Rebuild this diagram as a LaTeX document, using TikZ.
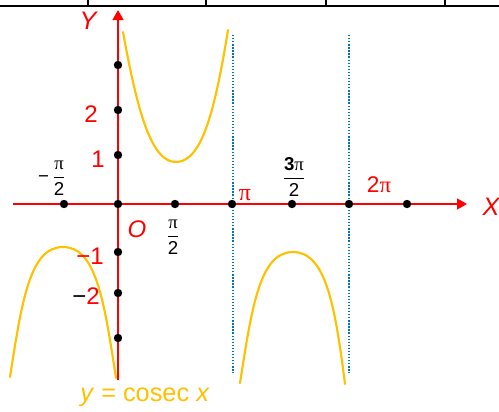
\documentclass[tikz,border=0pt]{standalone}
\usepackage{fontspec}
\setmainfont{Liberation Sans}
\newfontfamily\pifont{Liberation Serif}
\usetikzlibrary{arrows.meta}
\definecolor{axisred}{RGB}{255,0,0}
\definecolor{cosecorange}{RGB}{255,192,0}
\definecolor{asymblue}{RGB}{0,112,192}
\newcommand{\pig}{{\pifont π}}
\newcommand{\pfrac}[2]{$\displaystyle\frac{\mbox{#1}}{\mbox{#2}}$}
\begin{document}
\begin{tikzpicture}[x=0.75pt, y=-0.75pt, line join=round,
    axis/.style={draw=axisred, line width=1.7pt, -{Triangle[length=7.5pt, width=8pt]}},
    dot/.style={circle, fill=black, inner sep=0pt, minimum size=6.3pt},
    curve/.style={draw=cosecorange, line width=1.6pt, line cap=round},
    asym/.style={draw=asymblue, line width=1pt, dash pattern=on 1pt off 1.3pt},
    rlab/.style={text=axisred, font=\fontsize{18}{18}\selectfont, inner sep=0pt},
    blab/.style={text=black, font=\fontsize{14}{14}\selectfont, inner sep=0pt}]
  \useasboundingbox (0,0) rectangle (499,411);
  % top border
  \draw[line width=1.5pt] (0,5.5) -- (499,5.5);
  \draw[line width=1.5pt] (88,0) -- (88,5.5);
  \draw[line width=1.5pt] (206,0) -- (206,5.5);
  \draw[line width=1.5pt] (326,0) -- (326,5.5);
  \draw[line width=1.5pt] (445,0) -- (445,5.5);
  % asymptotes
  \coordinate (a1t) at (233,35);
  \coordinate (a1b) at (233,373);
  \coordinate (a2t) at (349,35);
  \coordinate (a2b) at (349,373);
  \draw[asym] (a1t) -- (a1b);
  \draw[asym] (a2t) -- (a2b);
  % cosec branches
  \draw[curve] (123,32) .. controls (138,115) and (152,162) .. (176,162)
    .. controls (202,162) and (215,110) .. (228,30);
  \draw[curve] (10,377) .. controls (22,300) and (30,247) .. (63,247)
    .. controls (96,247) and (104,300) .. (116,378);
  \draw[curve] (240,383) .. controls (252,306) and (260,252) .. (293,252)
    .. controls (326,252) and (335,306) .. (345,384);
  % axes
  \coordinate (xl) at (13,204);
  \coordinate (xr) at (467,204);
  \coordinate (yb) at (118,380);
  \coordinate (yt) at (118,10);
  \draw[axis] (xl) -- (xr);
  \draw[axis] (yb) -- (yt);
  % points on the axes
  \node[dot] (xm1) at (64,204) {};
  \node[dot] (o) at (118,204) {};
  \node[dot] (x1) at (175,204) {};
  \node[dot] (x2) at (232,204) {};
  \node[dot] (x3) at (292,204) {};
  \node[dot] (x4) at (349,204) {};
  \node[dot] (x5) at (407,204) {};
  \node[dot] (y1) at (118,155) {};
  \node[dot] (y2) at (118,110) {};
  \node[dot] (y3) at (118,65) {};
  \node[dot] (ym1) at (118,252) {};
  \node[dot] (ym2) at (118,293) {};
  \node[dot] (ym3) at (118,338) {};
  % labels
  \node[rlab, font=\fontsize{19}{19}\selectfont\itshape] (ylab) at (88,21) {Y};
  \node[rlab, font=\fontsize{19}{19}\selectfont\itshape] (xlab) at (491,207) {X};
  \node[rlab] (l2) at (91,114) {2};
  \node[rlab] (l1) at (98,159) {1};
  \node[rlab] (lm1) at (90,256) {−1};
  \node[rlab] (lm2) at (86,296) {\textcolor{black}{−}2};
  \node[rlab, font=\fontsize{18}{18}\selectfont\itshape] (lo) at (137,229) {O};
  \node[rlab] (lpi) at (245,195) {\pig};
  \node[rlab, font=\fontsize{17}{17}\selectfont] (l2pi) at (379,185) {2\pig};
  \node[blab] (lhalf) at (173,237) {\pfrac{\pig}{2}};
  \node[blab] (lmhalf) at (52,178) {−\,\pfrac{\pig}{2}};
  \node[blab] (l3half) at (294,177) {\pfrac{\textbf{3}\pig}{2}};
  \node[text=cosecorange, font=\fontsize{19}{19}\selectfont, inner sep=0pt] (fn) at (145,397)
    {\textit{y} = cosec \textit{x}};
\end{tikzpicture}
\end{document}
